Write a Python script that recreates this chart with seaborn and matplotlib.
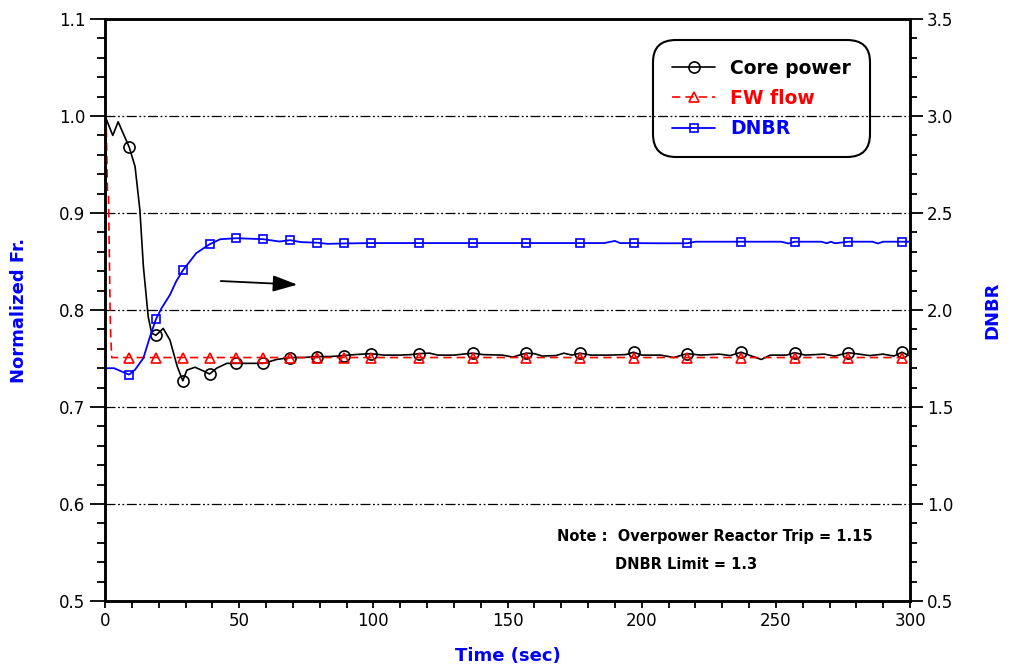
import numpy as np
import matplotlib
matplotlib.use("Agg")
import matplotlib.pyplot as plt
from matplotlib.ticker import MultipleLocator, FormatStrFormatter
import seaborn as sns

# --- data ---
mark_times = [9, 19, 29, 39, 49, 59, 69, 79, 89, 99,
              117, 137, 157, 177, 197, 217, 237, 257, 277, 297]

core_t = [0, 2.9, 4.9, 9, 11.2, 13.0, 14.3, 16.1, 17.4, 19, 21.7, 24.2, 26.9, 29,
          30.5, 33.5, 36, 39, 41.6, 45.4, 49, 54, 59, 64, 69, 74, 79, 84, 89, 93,
          99, 104, 110, 114, 117, 121, 124, 130, 137, 141, 148, 152, 155, 157, 160,
          163, 168, 171, 174, 177, 181, 188, 194, 197, 200, 207, 212, 215, 217,
          222, 229, 233, 237, 241, 244.6, 248, 254, 257, 261, 268, 272, 277, 281,
          285, 290, 294, 297, 300]
core_power = [1.0, 0.980, 0.994, 0.968, 0.948, 0.903, 0.845, 0.793, 0.776, 0.774,
              0.781, 0.769, 0.742, 0.727, 0.738, 0.741, 0.738, 0.734, 0.740, 0.745,
              0.745, 0.745, 0.745, 0.749, 0.751, 0.751, 0.752, 0.752, 0.753, 0.754,
              0.755, 0.7535, 0.7535, 0.754, 0.755, 0.7555, 0.7535, 0.7535, 0.7555,
              0.754, 0.7535, 0.7515, 0.754, 0.7555, 0.755, 0.7525, 0.753, 0.7555,
              0.7535, 0.7555, 0.7535, 0.7535, 0.754, 0.7565, 0.7535, 0.7535, 0.751,
              0.7535, 0.755, 0.7535, 0.7545, 0.753, 0.7565, 0.7525, 0.749, 0.7535,
              0.7535, 0.756, 0.7535, 0.7545, 0.7525, 0.756, 0.7545, 0.753, 0.7545,
              0.7525, 0.7565, 0.7525]

fw_t = [0, 0.5, 0.9, 1.3, 1.9, 2.1, 2.5, 9, 19, 29, 39, 49, 59, 69, 79, 89, 99,
        117, 137, 157, 177, 197, 217, 237, 257, 277, 297, 300]
fw_flow = [1.0, 0.985, 0.924, 0.92, 0.80, 0.776, 0.751, 0.751, 0.751, 0.751,
           0.751, 0.751, 0.751, 0.751, 0.751, 0.751, 0.751, 0.751, 0.751, 0.751,
           0.751, 0.751, 0.751, 0.751, 0.751, 0.751, 0.751, 0.751]

dnbr_t = [0, 3.4, 6.2, 9, 11.2, 14.3, 16.8, 19, 21.1, 24.2, 26.5, 29, 34, 39, 43,
          49, 59, 65, 69, 73, 79, 83, 89, 99, 117, 137, 157, 177, 186, 190, 192,
          197, 205, 217, 220, 237, 252, 254.7, 257, 267, 269, 270.5, 272, 277,
          286, 288, 290, 297, 300]
dnbr = [1.70, 1.70, 1.683, 1.667, 1.692, 1.752, 1.864, 1.953, 2.01, 2.078, 2.147,
        2.204, 2.293, 2.339, 2.365, 2.370, 2.365, 2.353, 2.36, 2.35, 2.347, 2.341,
        2.343, 2.345, 2.345, 2.345, 2.345, 2.345, 2.345, 2.356, 2.345, 2.345,
        2.344, 2.344, 2.352, 2.352, 2.352, 2.343, 2.352, 2.352, 2.344, 2.352,
        2.344, 2.352, 2.352, 2.343, 2.352, 2.352, 2.352]

BLUE = "#0000ff"
RED = "#ff0000"

sns.set_style("ticks")
plt.rcParams["font.family"] = ["DejaVu Sans"]
plt.rcParams["text.color"] = "black"
plt.rcParams["xtick.color"] = "black"
plt.rcParams["ytick.color"] = "black"
plt.rcParams["axes.labelcolor"] = "black"

fig = plt.figure(figsize=(10.1, 6.69), dpi=100)
ax = fig.add_axes([105 / 1010, 1 - 601 / 669, 805 / 1010, 582 / 669])
ax2 = ax.twinx()


def mark_idx(t):
    return list(np.where(np.isin(t, mark_times))[0])


sns.lineplot(x=core_t, y=core_power, ax=ax, color="black", lw=1.2,
             marker="o", markersize=8, markerfacecolor="none",
             markeredgecolor="black", markeredgewidth=1.2,
             markevery=mark_idx(core_t), label="Core power", legend=False,
             zorder=3)
sns.lineplot(x=fw_t, y=fw_flow, ax=ax, color=RED, lw=1.2, linestyle=(0, (5, 3)),
             marker="^", markersize=7, markerfacecolor="none",
             markeredgecolor=RED, markeredgewidth=1.2,
             markevery=mark_idx(fw_t), label="FW flow", legend=False, zorder=4)
sns.lineplot(x=dnbr_t, y=dnbr, ax=ax2, color=BLUE, lw=1.3,
             marker="s", markersize=6, markerfacecolor="none",
             markeredgecolor=BLUE, markeredgewidth=1.2,
             markevery=mark_idx(dnbr_t), label="DNBR", legend=False)

# axes limits and ticks
ax.set_xlim(0, 300)
ax.set_ylim(0.5, 1.1)
ax2.set_ylim(0.5, 3.5)
ax.xaxis.set_major_locator(MultipleLocator(50))
ax.xaxis.set_minor_locator(MultipleLocator(10))
ax.yaxis.set_major_locator(MultipleLocator(0.1))
ax.yaxis.set_minor_locator(MultipleLocator(0.02))
ax.yaxis.set_major_formatter(FormatStrFormatter("%.1f"))
ax2.yaxis.set_major_locator(MultipleLocator(0.5))
ax2.yaxis.set_minor_locator(MultipleLocator(0.1))
ax2.yaxis.set_major_formatter(FormatStrFormatter("%.1f"))

ax.tick_params(axis="y", which="major", direction="out", length=11, width=1.3,
               labelsize=12, pad=3, colors="black")
ax.tick_params(axis="y", which="minor", direction="out", length=5.5, width=1.3)
ax.tick_params(axis="x", which="both", direction="out", length=5, width=1.3,
               labelsize=12, pad=3, colors="black")
ax2.tick_params(axis="y", which="major", direction="out", length=9, width=1.3,
                labelsize=12, pad=3, colors="black")
ax2.tick_params(axis="y", which="minor", direction="out", length=5, width=1.3)

for a in (ax, ax2):
    for s in a.spines.values():
        s.set_linewidth(1.8)
        s.set_color("black")

# dash-dot gridlines on left major ticks
ax.grid(axis="y", which="major", color="black", lw=0.9,
        linestyle=(0, (8, 2, 1.5, 2, 1.5, 2)))
ax.grid(axis="x", visible=False)
ax2.grid(False)

label_font = dict(fontsize=13, fontweight="bold", color=BLUE)
ax.set_xlabel("Time (sec)", labelpad=12, **label_font)
ax.set_ylabel("Normalized Fr.", labelpad=22, **label_font)
ax2.set_ylabel("DNBR", labelpad=22, **label_font)

# trend arrow
ax.annotate("", xy=(72.7, 0.826), xytext=(42.1, 0.830),
            arrowprops=dict(arrowstyle="-|>,head_length=1.5,head_width=0.5",
                            color="black", lw=1.3))

# note text
ax.text(0.5615, 0.111, "Note :  Overpower Reactor Trip = 1.15", transform=ax.transAxes,
        fontsize=10.5, fontweight="bold", va="center", ha="left", color="black")
ax.text(0.6335, 0.063, "DNBR Limit = 1.3", transform=ax.transAxes,
        fontsize=10.5, fontweight="bold", va="center", ha="left", color="black")

# legend
h1, l1 = ax.get_legend_handles_labels()
h2, l2 = ax2.get_legend_handles_labels()
leg = ax2.legend(h1 + h2, l1 + l2, loc="upper right", bbox_to_anchor=(0.950, 0.964),
                 borderaxespad=0, frameon=True, fancybox=True, framealpha=1,
                 prop=dict(size=13.5, weight="bold"),
                 labelcolor="linecolor", handlelength=2.3, borderpad=1.0,
                 labelspacing=0.6, handletextpad=0.8)
frame = leg.get_frame()
frame.set_facecolor("none")
frame.set_edgecolor("black")
frame.set_linewidth(1.5)
frame.set_boxstyle("round", pad=0, rounding_size=1.2)

fig.savefig("out.png", dpi=100)
